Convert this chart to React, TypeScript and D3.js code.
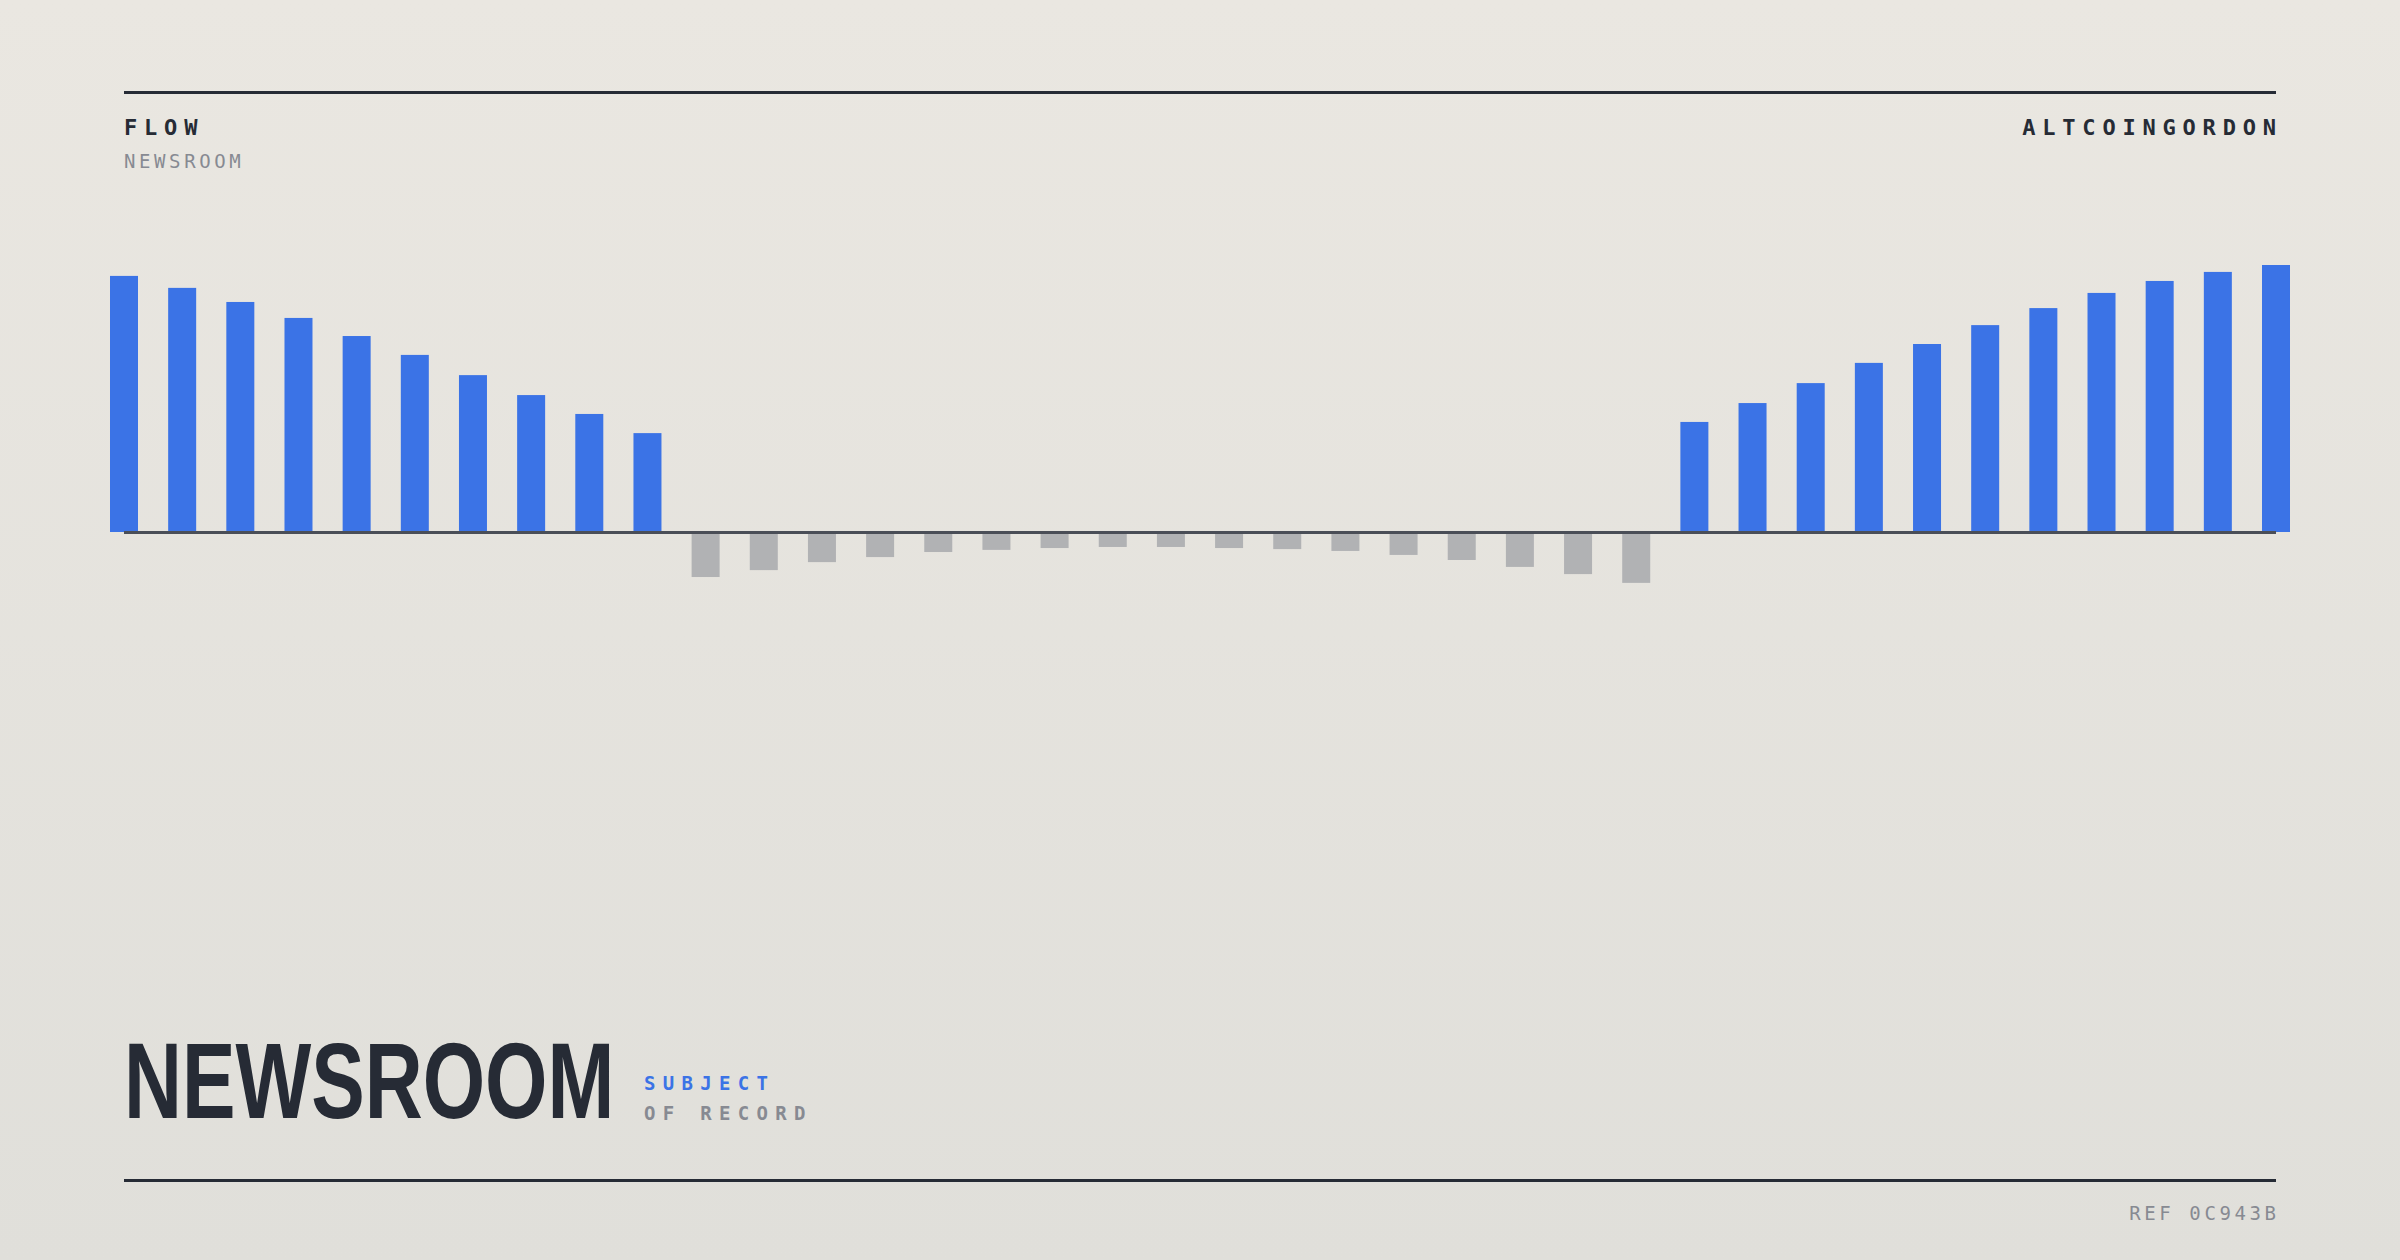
import React from "react";
import * as d3 from "d3";

const W = 2400;
const H = 1260;

const leftValues = [95.9, 91.4, 86.1, 80.1, 73.3, 66.2, 58.6, 51.1, 44.0, 36.8];
const negValues = [-17.3, -14.7, -11.7, -9.8, -7.9, -7.1, -6.4, -6.0, -6.0, -6.4, -6.8, -7.5, -9.0, -10.9, -13.5, -16.2, -19.5];
const rightValues = [41.0, 48.1, 55.6, 63.2, 70.3, 77.4, 83.8, 89.5, 94.0, 97.4, 100.0];
const values = [...leftValues, ...negValues, ...rightValues];

const headerLeft = "FLOW";
const headerSub = "NEWSROOM";
const headerRight = "ALTCOINGORDON";
const titleText = "NEWSROOM";
const tagLine1 = "SUBJECT";
const tagLine2 = "OF RECORD";
const refText = "REF 0C943B";

const DARK = "#262B35";
const GREY_TEXT = "#878A92";
const BLUE = "#3B73E6";
const NEG = "#B1B2B4";
const MONO = "'DejaVu Sans Mono', 'Liberation Mono', monospace";

export default function App() {
  const x0 = 124;
  const x1 = 2276;
  const x = d3
    .scalePoint<number>()
    .domain(values.map((_, i) => i))
    .range([x0, x1]);
  const y = d3.scaleLinear().domain([0, 100]).range([531, 265]);
  const bw = 28;

  return (
    <div style={{ position: "fixed", left: 0, top: 0, width: W, height: H }}>
      <svg width={W} height={H} viewBox={`0 0 ${W} ${H}`} style={{ display: "block" }}>
        <defs>
          <linearGradient id="bg" x1="0" y1="0" x2="0" y2="1">
            <stop offset="0" stopColor="#EAE7E1" />
            <stop offset="1" stopColor="#E0DFDA" />
          </linearGradient>
        </defs>
        <rect x={0} y={0} width={W} height={H} fill="url(#bg)" />

        <line x1={x0} x2={x1} y1={92.5} y2={92.5} stroke={DARK} strokeWidth={3} />
        <line x1={x0} x2={x1} y1={1180.5} y2={1180.5} stroke={DARK} strokeWidth={3} />

        <text x={x0} y={135} fontFamily={MONO} fontWeight={700} fontSize={22} letterSpacing={6.8} fill={DARK}>
          {headerLeft}
        </text>
        <text x={x0} y={168} fontFamily={MONO} fontSize={19} letterSpacing={3.6} fill={GREY_TEXT}>
          {headerSub}
        </text>
        <text x={x1 + 6.8} y={135} textAnchor="end" fontFamily={MONO} fontWeight={700} fontSize={22} letterSpacing={6.8} fill={DARK}>
          {headerRight}
        </text>

        {values.map((v, i) => {
          const cx = x(i) as number;
          const top = v >= 0 ? y(v) : y(0);
          const h = Math.abs(y(v) - y(0));
          return (
            <rect key={i} x={cx - bw / 2} y={v >= 0 ? top : top + 1.5} width={bw} height={v >= 0 ? h + 1 : h - 1.5} fill={v >= 0 ? BLUE : NEG} />
          );
        })}
        <line x1={x0} x2={x1} y1={532.5} y2={532.5} stroke="#4A4E57" strokeWidth={3} />

        <text
          transform="translate(124,1118) scale(0.75,1)"
          x={0}
          y={0}
          fontFamily="'Liberation Sans', Arial, sans-serif"
          fontWeight={700}
          fontSize={107}
          fill={DARK}
        >
          {titleText}
        </text>
        <text x={644} y={1090} fontFamily={MONO} fontWeight={700} fontSize={19} letterSpacing={7.3} fill={BLUE}>
          {tagLine1}
        </text>
        <text x={644} y={1120} fontFamily={MONO} fontWeight={700} fontSize={19} letterSpacing={7.3} fill={GREY_TEXT}>
          {tagLine2}
        </text>

        <text x={x1 + 3.6} y={1220} textAnchor="end" fontFamily={MONO} fontSize={19} letterSpacing={3.6} fill={GREY_TEXT}>
          {refText}
        </text>
      </svg>
    </div>
  );
}
